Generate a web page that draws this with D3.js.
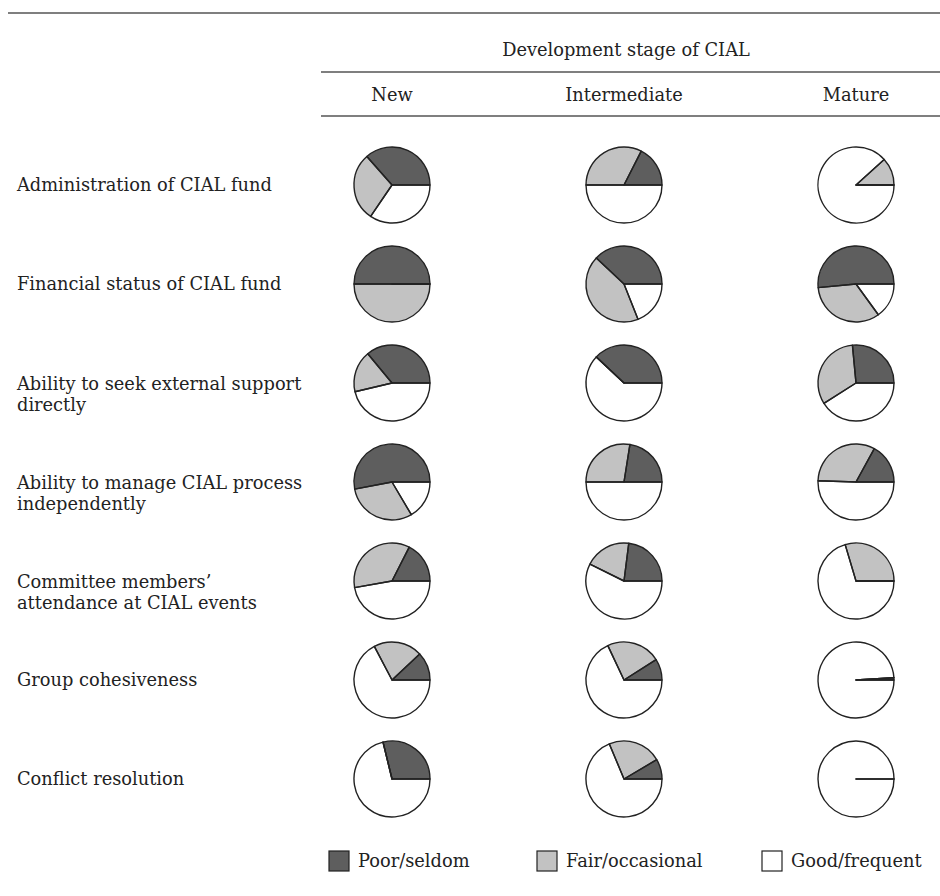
<!DOCTYPE html>
<html>
<head>
<meta charset="utf-8">
<script src="https://cdn.jsdelivr.net/npm/d3@7"></script>
<style>
  html, body { margin: 0; padding: 0; background: #fff; }
  svg { display: block; }
  text { font-family: "DejaVu Serif", "Liberation Serif", serif; fill: #222; }
</style>
</head>
<body>
<svg id="chart" width="940" height="896"></svg>
<script>
// ---- Data ----
const headerTitle = "Development stage of CIAL";
const stages = ["New", "Intermediate", "Mature"];
const categories = [
  "Administration of CIAL fund",
  "Financial status of CIAL fund",
  "Ability to seek external support directly",
  "Ability to manage CIAL process independently",
  "Committee members’ attendance at CIAL events",
  "Group cohesiveness",
  "Conflict resolution"
];
const categoryLines = [
  ["Administration of CIAL fund"],
  ["Financial status of CIAL fund"],
  ["Ability to seek external support", "directly"],
  ["Ability to manage CIAL process", "independently"],
  ["Committee members’", "attendance at CIAL events"],
  ["Group cohesiveness"],
  ["Conflict resolution"]
];
const ratings = ["Poor/seldom", "Fair/occasional", "Good/frequent"];

// percentages per category, per stage: [New, Intermediate, Mature]
const poorValues = [
  [36.5, 17.5, 0],
  [50, 38, 51.5],
  [36, 38, 26.5],
  [53, 22.5, 17],
  [17.5, 23, 0],
  [12, 9, 1],
  [28.8, 8.5, 0]
];
const fairValues = [
  [29, 32.5, 11.7],
  [50, 43, 33.5],
  [17.7, 0, 32.5],
  [30.5, 27.5, 32.5],
  [35.3, 19.7, 29.6],
  [20.7, 23, 0],
  [0, 22.8, 0]
];
const goodValues = [
  [34.5, 50, 88.3],
  [0, 19, 15],
  [46.3, 62, 41],
  [16.5, 50, 50.5],
  [47.2, 57.3, 70.4],
  [67.3, 68, 99],
  [71.2, 68.7, 100]
];

// ---- Drawing ----
const svg = d3.select("#chart");
const colors = d3.scaleOrdinal().domain(ratings).range(["#5e5e5e", "#c2c2c2", "#ffffff"]);

// font size fitted so the first label has the reference width
const probe = svg.append("text").attr("font-size", 16).text(categories[0]);
const fs = 16 * 255 / probe.node().getComputedTextLength();
probe.remove();

const x = d3.scalePoint().domain(stages).range([392, 856]);
const y = d3.scalePoint().domain(categories).range([185, 779]);
const R = 38;

// rules
const ruleColor = "#555";
svg.append("line").attr("x1", 8).attr("x2", 940).attr("y1", 13).attr("y2", 13)
  .attr("stroke", ruleColor).attr("stroke-width", 1.5);
svg.append("line").attr("x1", 321).attr("x2", 940).attr("y1", 72).attr("y2", 72)
  .attr("stroke", ruleColor).attr("stroke-width", 1.5);
svg.append("line").attr("x1", 321).attr("x2", 940).attr("y1", 116).attr("y2", 116)
  .attr("stroke", ruleColor).attr("stroke-width", 1.5);

svg.append("text").attr("x", 626).attr("y", 50).attr("dy", "0.35em")
  .attr("text-anchor", "middle").attr("font-size", fs).text(headerTitle);

svg.selectAll("text.stage").data(stages).join("text")
  .attr("class", "stage")
  .attr("x", d => x(d)).attr("y", 95).attr("dy", "0.35em")
  .attr("text-anchor", "middle").attr("font-size", fs).text(d => d);

// row labels
categories.forEach((c, i) => {
  const lines = categoryLines[i];
  const t = svg.append("text").attr("font-size", fs)
    .attr("x", 17).attr("y", y(c) + (lines.length > 1 ? 1 : 0));
  lines.forEach((ln, j) => {
    t.append("tspan").attr("x", 17).attr("dy", j === 0 ? "0.35em" : 21).text(ln);
  });
});

// pies: start at 3 o'clock, counterclockwise
const pie = d3.pie().sort(null).value(d => d.v)
  .startAngle(Math.PI / 2).endAngle(Math.PI / 2 - 2 * Math.PI);
const arc = d3.arc().innerRadius(0).outerRadius(R);

categories.forEach((c, i) => {
  stages.forEach((s, j) => {
    const data = [
      { k: ratings[0], v: poorValues[i][j] },
      { k: ratings[1], v: fairValues[i][j] },
      { k: ratings[2], v: goodValues[i][j] }
    ];
    const arcs = pie(data);
    const g = svg.append("g").attr("transform", `translate(${x(s)},${y(c)})`);
    g.selectAll("path.fill").data(arcs).join("path")
      .attr("class", "fill")
      .attr("d", arc)
      .attr("fill", d => colors(d.data.k))
      .attr("stroke", "none");
    g.selectAll("path.edge").data(arcs).join("path")
      .attr("class", "edge")
      .attr("d", arc)
      .attr("fill", "none")
      .attr("stroke", "#222")
      .attr("stroke-width", 1.4)
      .attr("stroke-linejoin", "round");
  });
});

// legend
const legendX = [329, 537, 762];
const lg = svg.selectAll("g.legend").data(ratings).join("g")
  .attr("class", "legend")
  .attr("transform", (d, i) => `translate(${legendX[i]},851)`);
lg.append("rect").attr("width", 20).attr("height", 20)
  .attr("fill", d => colors(d)).attr("stroke", "#222").attr("stroke-width", 1.2);
lg.append("text").attr("x", 29).attr("y", 10).attr("dy", "0.35em")
  .attr("font-size", fs).text(d => d);
</script>
</body>
</html>
